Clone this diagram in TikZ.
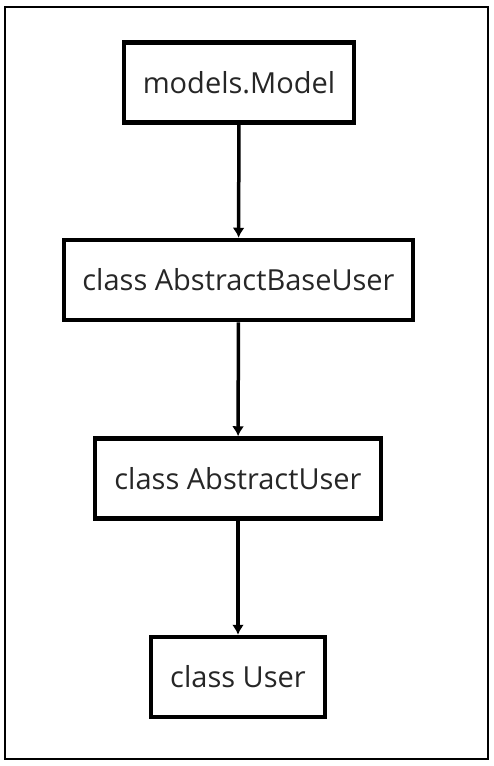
\documentclass[tikz,border=0pt]{standalone}
\usepackage{fontspec}
\setmainfont{Open Sans}
\usetikzlibrary{arrows.meta}
\begin{document}
\begin{tikzpicture}[x=1pt,y=-1pt,>={Latex[length=10pt,width=12pt]},line join=miter,font=\fontsize{29}{34}\selectfont]
		\tikzset{classbox/.style={draw,line width=4.5pt,inner sep=0pt,minimum height=80pt,text=black!85}}
		\useasboundingbox (0,0) rectangle (494,766);
		\draw[line width=1.5pt] (5,7) rectangle (488,759); % khung ngoai
		\node[classbox,minimum width=230pt] (model) at (239,82.5) {models.Model};
		\node[classbox,minimum width=349pt] (absbase) at (238.5,280) {class AbstractBaseUser};
		\node[classbox,minimum width=286pt] (absuser) at (238,478.5) {class AbstractUser};
		\node[classbox,minimum width=174pt] (user) at (238,677) {class User};
		\draw[->,line width=3.5pt] (model) -- (absbase); % ke thua
		\draw[->,line width=3.5pt] (absbase) -- (absuser);
		\draw[->,line width=3.5pt] (absuser) -- (user);
	\end{tikzpicture}
\end{document}
